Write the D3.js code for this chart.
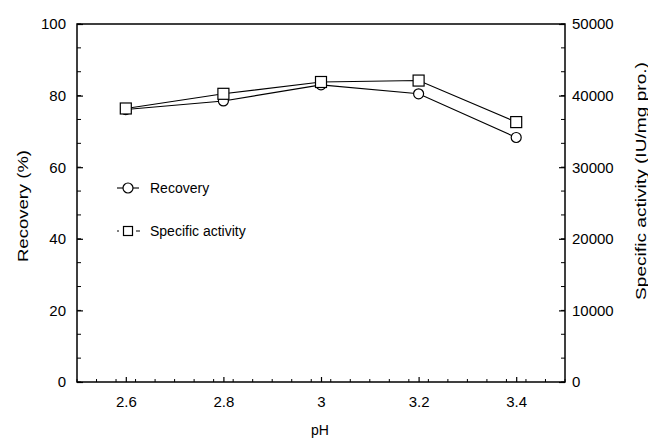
<!DOCTYPE html>
<html lang="en">
<head>
<meta charset="UTF-8">
<title>Recovery and specific activity vs pH</title>
<script src="https://d3js.org/d3.v7.min.js"></script>
<style>
  body { margin: 0; background: #fff; }
  text { font-family: "Liberation Sans", Arial, sans-serif; fill: #000; }
</style>
</head>
<body>
<svg id="chart" width="648" height="439"></svg>
<script>
// data
const ph = [2.6, 2.8, 3.0, 3.2, 3.4];
const recovery = [76.1, 78.5, 83.0, 80.5, 68.3];
const specActivity = [38200, 40250, 41900, 42100, 36300];
const xTicks = [2.6, 2.8, 3.0, 3.2, 3.4];
const yLeftTicks = [0, 20, 40, 60, 80, 100];
const yRightTicks = [0, 10000, 20000, 30000, 40000, 50000];

const svg = d3.select("#chart");
const margin = { top: 24, right: 83, bottom: 57, left: 77 };
const W = 648 - margin.left - margin.right;
const H = 439 - margin.top - margin.bottom;

const g = svg.append("g")
  .attr("transform", "translate(" + margin.left + "," + margin.top + ")");

const x = d3.scaleLinear().domain([2.5, 3.5]).range([0, W]);
const yL = d3.scaleLinear().domain([0, 100]).range([H, 0]);
const yR = d3.scaleLinear().domain([0, 50000]).range([H, 0]);

// minor ticks
const xMinor = d3.range(2.5, 3.5001, 0.04);
const yMinor = d3.range(0, 100.001, 20 / 3);

g.append("g").selectAll("line").data(xMinor).join("line")
  .attr("x1", d => x(d)).attr("x2", d => x(d))
  .attr("y1", H).attr("y2", H - 3)
  .attr("stroke", "#000").attr("stroke-width", 1);

g.append("g").selectAll("line").data(yMinor).join("line")
  .attr("x1", 0).attr("x2", 4)
  .attr("y1", d => yL(d)).attr("y2", d => yL(d))
  .attr("stroke", "#000").attr("stroke-width", 1);

g.append("g").selectAll("line").data(yMinor).join("line")
  .attr("x1", W).attr("x2", W - 4)
  .attr("y1", d => yL(d)).attr("y2", d => yL(d))
  .attr("stroke", "#000").attr("stroke-width", 1);

// major ticks + labels
const xAxis = g.append("g")
  .attr("transform", "translate(0," + H + ")")
  .call(d3.axisBottom(x).tickValues(xTicks).tickFormat(d3.format("")).tickSizeInner(-5).tickSizeOuter(0).tickPadding(14));

const leftAxis = g.append("g")
  .call(d3.axisLeft(yL).tickValues(yLeftTicks).tickSizeInner(-6).tickSizeOuter(0).tickPadding(11));

const rightAxis = g.append("g")
  .attr("transform", "translate(" + W + ",0)")
  .call(d3.axisRight(yR).tickValues(yRightTicks).tickFormat(d3.format("d")).tickSizeInner(-6).tickSizeOuter(0).tickPadding(7));

[xAxis, leftAxis, rightAxis].forEach(a => {
  a.select(".domain").remove();
  a.selectAll("text").style("font-size", "15px");
  a.selectAll("line").attr("stroke-width", 1.2);
});

// frame
g.append("rect")
  .attr("width", W).attr("height", H)
  .attr("fill", "none").attr("stroke", "#000").attr("stroke-width", 1.5);

// series
const lineRec = d3.line().x((d, i) => x(ph[i])).y(d => yL(d));
const lineAct = d3.line().x((d, i) => x(ph[i])).y(d => yR(d));

g.append("path").datum(recovery).attr("d", lineRec)
  .attr("fill", "none").attr("stroke", "#000").attr("stroke-width", 1.1);
g.append("path").datum(specActivity).attr("d", lineAct)
  .attr("fill", "none").attr("stroke", "#000").attr("stroke-width", 1.1);

g.selectAll("circle.rec").data(recovery).join("circle")
  .attr("class", "rec")
  .attr("cx", (d, i) => x(ph[i])).attr("cy", d => yL(d)).attr("r", 5)
  .attr("fill", "#fff").attr("stroke", "#000").attr("stroke-width", 1.2);

g.selectAll("rect.act").data(specActivity).join("rect")
  .attr("class", "act")
  .attr("x", (d, i) => x(ph[i]) - 5.5).attr("y", d => yR(d) - 5.5)
  .attr("width", 11).attr("height", 11)
  .attr("fill", "#fff").attr("stroke", "#000").attr("stroke-width", 1.2);

// legend
const leg = svg.append("g");
leg.append("line").attr("x1", 117).attr("x2", 139).attr("y1", 188).attr("y2", 188)
  .attr("stroke", "#000").attr("stroke-width", 1.1);
leg.append("circle").attr("cx", 128).attr("cy", 188).attr("r", 5)
  .attr("fill", "#fff").attr("stroke", "#000").attr("stroke-width", 1.2);
leg.append("text").attr("x", 150).attr("y", 193).style("font-size", "14px").text("Recovery");

leg.append("line").attr("x1", 117).attr("x2", 119).attr("y1", 231).attr("y2", 231)
  .attr("stroke", "#000").attr("stroke-width", 1);
leg.append("line").attr("x1", 136).attr("x2", 140).attr("y1", 231).attr("y2", 231)
  .attr("stroke", "#000").attr("stroke-width", 1);
leg.append("rect").attr("x", 123.5).attr("y", 226.5).attr("width", 9).attr("height", 9)
  .attr("fill", "#fff").attr("stroke", "#000").attr("stroke-width", 1.2);
leg.append("text").attr("x", 150).attr("y", 236).style("font-size", "14px").text("Specific activity");

// axis titles
svg.append("text").attr("x", 320).attr("y", 435).attr("text-anchor", "middle")
  .style("font-size", "14px").text("pH");

svg.append("text")
  .attr("transform", "translate(28,206) rotate(-90)")
  .attr("text-anchor", "middle").style("font-size", "14.5px")
  .attr("textLength", 112).attr("lengthAdjust", "spacingAndGlyphs")
  .text("Recovery (%)");

svg.append("text")
  .attr("transform", "translate(646,181) rotate(-90)")
  .attr("text-anchor", "middle").style("font-size", "14.5px")
  .attr("textLength", 238).attr("lengthAdjust", "spacingAndGlyphs")
  .text("Specific activity (IU/mg pro.)");
</script>
</body>
</html>
